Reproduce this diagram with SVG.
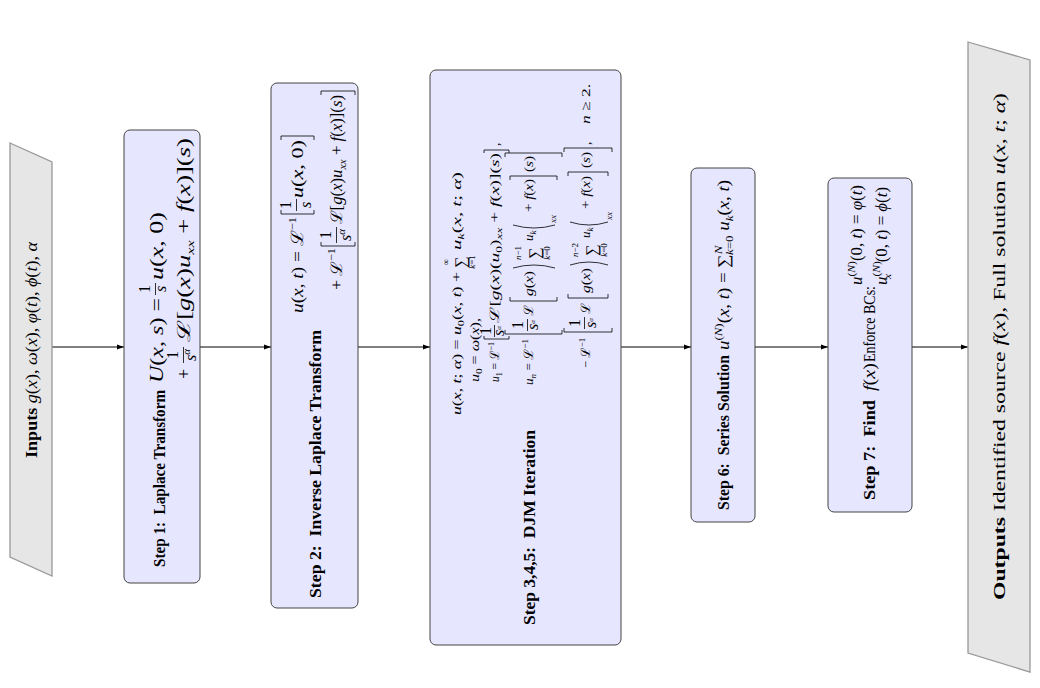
<svg xmlns="http://www.w3.org/2000/svg" width="1040" height="688" viewBox="0 0 1040 688">
<defs>
<style>
.t{font-family:"Liberation Serif","DejaVu Serif",serif;font-size:16px;fill:#000}
.b{font-weight:bold}
.i{font-style:italic}
.s{font-size:11px}
.m1{font-size:18px}
.m2{font-size:17px}
.d{font-size:13px}
.ds{font-size:9px}
.node{fill:#e6e6ff;stroke:#444;stroke-width:1}
.io{fill:#e6e6e6;stroke:#999;stroke-width:1.3}
.edge{stroke:#000;stroke-width:1;fill:none;marker-end:url(#ah)}
.bar{stroke:#000;stroke-width:0.8}
.br{stroke:#000;stroke-width:0.8;fill:none}
</style>
<marker id="ah" viewBox="0 0 10 10" refX="10" refY="5" markerWidth="7" markerHeight="7" orient="auto" markerUnits="userSpaceOnUse">
<path d="M0,1.5 L10,5 L0,8.5 Z" fill="#000"/>
</marker>
</defs>
<rect width="1040" height="688" fill="#fff"/>

<g id="connectors">
<line class="edge" x1="52" y1="347" x2="124" y2="347"/>
<line class="edge" x1="200" y1="347" x2="271" y2="347"/>
<line class="edge" x1="358" y1="347" x2="430" y2="347"/>
<line class="edge" x1="621" y1="347" x2="691" y2="347"/>
<line class="edge" x1="755" y1="347" x2="828" y2="347"/>
<line class="edge" x1="912" y1="347" x2="968" y2="347"/>
</g>

<g id="inputs">
<polygon class="io" points="10,143 52,162 52,576 10,557"/>
<text class="t" font-size="17.5" textLength="216" lengthAdjust="spacingAndGlyphs" transform="translate(37 458) rotate(-90)"><tspan class="b">Inputs</tspan> <tspan class="i">g</tspan>(<tspan class="i">x</tspan>), <tspan class="i">ω</tspan>(<tspan class="i">x</tspan>), <tspan class="i">φ</tspan>(<tspan class="i">t</tspan>), <tspan class="i">ϕ</tspan>(<tspan class="i">t</tspan>), <tspan class="i">α</tspan></text>
</g>

<g id="step1">
<rect class="node" x="124" y="130" width="76" height="453" rx="6"/>
<text class="t b" font-size="15.5" textLength="177" lengthAdjust="spacingAndGlyphs" transform="translate(165 567) rotate(-90)">Step 1:&#160; Laplace Transform</text>
<text class="t m1" textLength="85" lengthAdjust="spacingAndGlyphs" transform="translate(163 383) rotate(-90)"><tspan class="i">U</tspan>(<tspan class="i">x</tspan>, <tspan class="i">s</tspan>) =</text>
<text class="t" font-size="16" text-anchor="middle" transform="translate(150 289) rotate(-90)">1</text>
<line class="bar" x1="155.5" y1="283" x2="155.5" y2="295"/>
<text class="t i" font-size="16" text-anchor="middle" transform="translate(166 289) rotate(-90)">s</text>
<text class="t m1" textLength="68" lengthAdjust="spacingAndGlyphs" transform="translate(163 280) rotate(-90)"><tspan class="i">u</tspan>(<tspan class="i">x</tspan>, 0)</text>
<text class="t m1" transform="translate(190 379) rotate(-90)">+</text>
<text class="t" font-size="16" text-anchor="middle" transform="translate(178 355) rotate(-90)">1</text>
<line class="bar" x1="183.5" y1="347" x2="183.5" y2="363"/>
<text class="t" font-size="16" text-anchor="middle" transform="translate(196 355) rotate(-90)"><tspan class="i">s</tspan><tspan class="s i" dy="-6">α</tspan></text>
<text class="t m1" textLength="204" lengthAdjust="spacingAndGlyphs" transform="translate(190 342) rotate(-90)">ℒ[<tspan class="i">g</tspan>(<tspan class="i">x</tspan>)<tspan class="i">u</tspan><tspan class="s i" dy="4">xx</tspan><tspan dy="-4"> + </tspan><tspan class="i">f</tspan>(<tspan class="i">x</tspan>)](<tspan class="i">s</tspan>)</text>
</g>

<g id="step2">
<rect class="node" x="271" y="83" width="87" height="525" rx="6"/>
<text class="t b" font-size="16.5" textLength="268" lengthAdjust="spacingAndGlyphs" transform="translate(321 598) rotate(-90)">Step 2:&#160; Inverse Laplace Transform</text>
<text class="t m2" textLength="96" lengthAdjust="spacingAndGlyphs" transform="translate(303 313) rotate(-90)"><tspan class="i">u</tspan>(<tspan class="i">x</tspan>, <tspan class="i">t</tspan>) = ℒ<tspan class="s" dy="-7">−1</tspan></text>
<path class="br" d="M281,210 L281,214 L314,214 L314,210"/>
<text class="t" text-anchor="middle" transform="translate(291 205) rotate(-90)">1</text>
<line class="bar" x1="296.5" y1="199" x2="296.5" y2="211"/>
<text class="t i" text-anchor="middle" transform="translate(311 205) rotate(-90)">s</text>
<text class="t m2" textLength="58" lengthAdjust="spacingAndGlyphs" transform="translate(303 198) rotate(-90)"><tspan class="i">u</tspan>(<tspan class="i">x</tspan>, 0)</text>
<path class="br" d="M281,140 L281,136 L314,136 L314,140"/>
<text class="t" font-size="16" textLength="42" lengthAdjust="spacingAndGlyphs" transform="translate(342 290) rotate(-90)">+ ℒ<tspan class="s" dy="-7">−1</tspan></text>
<path class="br" d="M321,242 L321,246 L355,246 L355,242"/>
<text class="t" text-anchor="middle" transform="translate(331 235) rotate(-90)">1</text>
<line class="bar" x1="336.5" y1="227" x2="336.5" y2="243"/>
<text class="t" text-anchor="middle" transform="translate(351 235) rotate(-90)"><tspan class="i">s</tspan><tspan class="s i" dy="-6">α</tspan></text>
<text class="t" font-size="16" textLength="129" lengthAdjust="spacingAndGlyphs" transform="translate(342 224) rotate(-90)">ℒ[<tspan class="i">g</tspan>(<tspan class="i">x</tspan>)<tspan class="i">u</tspan><tspan class="s i" dy="4">xx</tspan><tspan dy="-4"> + </tspan><tspan class="i">f</tspan>(<tspan class="i">x</tspan>)](<tspan class="i">s</tspan>)</text>
<path class="br" d="M321,95 L321,91 L355,91 L355,95"/>
</g>

<g id="step345">
<rect class="node" x="430" y="70" width="191" height="575" rx="6"/>
<text class="t b" font-size="17" textLength="195" lengthAdjust="spacingAndGlyphs" transform="translate(535 625) rotate(-90)">Step 3,4,5:&#160; DJM Iteration</text>
<text class="t d" textLength="143" lengthAdjust="spacingAndGlyphs" transform="translate(461 415) rotate(-90)"><tspan class="i">u</tspan>(<tspan class="i">x</tspan>, <tspan class="i">t</tspan>; <tspan class="i">α</tspan>) = <tspan class="i">u</tspan><tspan class="ds" dy="3">0</tspan><tspan dy="-3">(</tspan><tspan class="i">x</tspan>, <tspan class="i">t</tspan>) +</text>
<text class="t" font-size="21" text-anchor="middle" transform="translate(466 262) rotate(-90)">∑</text>
<text class="t ds" text-anchor="middle" transform="translate(449 262) rotate(-90)">∞</text>
<text class="t ds" text-anchor="middle" transform="translate(475 262) rotate(-90)"><tspan class="i">k</tspan>=1</text>
<text class="t d" textLength="78" lengthAdjust="spacingAndGlyphs" transform="translate(461 250) rotate(-90)"><tspan class="i">u</tspan><tspan class="ds i" dy="3">k</tspan><tspan dy="-3">(</tspan><tspan class="i">x</tspan>, <tspan class="i">t</tspan>; <tspan class="i">α</tspan>)</text>
<text class="t d" textLength="64" lengthAdjust="spacingAndGlyphs" transform="translate(479 382) rotate(-90)"><tspan class="i">u</tspan><tspan class="ds" dy="3">0</tspan><tspan dy="-3"> = </tspan><tspan class="i">ω</tspan>(<tspan class="i">x</tspan>),</text>
<text class="t d" textLength="40" lengthAdjust="spacingAndGlyphs" transform="translate(499 382) rotate(-90)"><tspan class="i">u</tspan><tspan class="ds" dy="3">1</tspan><tspan dy="-3"> = ℒ</tspan><tspan class="ds" dy="-5">−1</tspan></text>
<path class="br" d="M484,336 L484,339 L509,339 L509,336"/>
<text class="t" font-size="10" text-anchor="middle" transform="translate(491 331) rotate(-90)">1</text>
<line class="bar" x1="494.5" y1="325" x2="494.5" y2="337"/>
<text class="t" font-size="10" text-anchor="middle" transform="translate(504 331) rotate(-90)"><tspan class="i">s</tspan><tspan font-size="7" class="i" dy="-3">α</tspan></text>
<text class="t d" textLength="170" lengthAdjust="spacingAndGlyphs" transform="translate(499 323) rotate(-90)">ℒ[<tspan class="i">g</tspan>(<tspan class="i">x</tspan>)(<tspan class="i">u</tspan><tspan class="ds" dy="3">0</tspan><tspan dy="-3">)</tspan><tspan class="ds i" dy="3">xx</tspan><tspan dy="-3"> + </tspan><tspan class="i">f</tspan>(<tspan class="i">x</tspan>)](<tspan class="i">s</tspan>)</text>
<path class="br" d="M484,153 L484,150 L509,150 L509,153"/>
<text class="t d" transform="translate(499 146) rotate(-90)">,</text>

<text class="t d" textLength="46" lengthAdjust="spacingAndGlyphs" transform="translate(533 385) rotate(-90)"><tspan class="i">u</tspan><tspan class="ds i" dy="3">n</tspan><tspan dy="-3"> = ℒ</tspan><tspan class="ds" dy="-5">−1</tspan></text>
<path class="br" d="M505,330 L505,334 L562,334 L562,330"/>
<text class="t" font-size="10" text-anchor="middle" transform="translate(523 325) rotate(-90)">1</text>
<line class="bar" x1="527.5" y1="319" x2="527.5" y2="331"/>
<text class="t" font-size="10" text-anchor="middle" transform="translate(538 325) rotate(-90)"><tspan class="i">s</tspan><tspan font-size="7" class="i" dy="-3">α</tspan></text>
<text class="t d" transform="translate(533 316) rotate(-90)">ℒ</text>
<path class="br" d="M510,297 L510,301 L557,301 L557,297"/>
<text class="t d" textLength="25" lengthAdjust="spacingAndGlyphs" transform="translate(533 296) rotate(-90)"><tspan class="i">g</tspan>(<tspan class="i">x</tspan>)</text>
<path class="br" d="M513,268 Q534,262 555,268"/>
<text class="t" font-size="21" text-anchor="middle" transform="translate(540 253) rotate(-90)">∑</text>
<text class="t ds" text-anchor="middle" transform="translate(521 253) rotate(-90)"><tspan class="i">n</tspan>−1</text>
<text class="t ds" text-anchor="middle" transform="translate(550 253) rotate(-90)"><tspan class="i">k</tspan>=0</text>
<text class="t d" transform="translate(533 241) rotate(-90)"><tspan class="i">u</tspan><tspan class="ds i" dy="3">k</tspan></text>
<path class="br" d="M513,225 Q534,231 555,225"/>
<text class="t ds i" transform="translate(556 223) rotate(-90)">xx</text>
<text class="t d" textLength="33" lengthAdjust="spacingAndGlyphs" transform="translate(533 212) rotate(-90)">+ <tspan class="i">f</tspan>(<tspan class="i">x</tspan>)</text>
<path class="br" d="M510,180 L510,176 L557,176 L557,180"/>
<text class="t d" textLength="16" lengthAdjust="spacingAndGlyphs" transform="translate(533 172) rotate(-90)">(<tspan class="i">s</tspan>)</text>
<path class="br" d="M505,157 L505,153 L562,153 L562,157"/>

<text class="t d" textLength="30" lengthAdjust="spacingAndGlyphs" transform="translate(590 368) rotate(-90)">− ℒ<tspan class="ds" dy="-5">−1</tspan></text>
<path class="br" d="M564,328 L564,332 L612,332 L612,328"/>
<text class="t" font-size="10" text-anchor="middle" transform="translate(580 323) rotate(-90)">1</text>
<line class="bar" x1="584.5" y1="317" x2="584.5" y2="329"/>
<text class="t" font-size="10" text-anchor="middle" transform="translate(596 323) rotate(-90)"><tspan class="i">s</tspan><tspan font-size="7" class="i" dy="-3">α</tspan></text>
<text class="t d" transform="translate(590 314) rotate(-90)">ℒ</text>
<path class="br" d="M568,294 L568,298 L608,298 L608,294"/>
<text class="t d" textLength="25" lengthAdjust="spacingAndGlyphs" transform="translate(590 293) rotate(-90)"><tspan class="i">g</tspan>(<tspan class="i">x</tspan>)</text>
<path class="br" d="M570,265 Q589,259 608,265"/>
<text class="t" font-size="21" text-anchor="middle" transform="translate(597 250) rotate(-90)">∑</text>
<text class="t ds" text-anchor="middle" transform="translate(578 250) rotate(-90)"><tspan class="i">n</tspan>−2</text>
<text class="t ds" text-anchor="middle" transform="translate(607 250) rotate(-90)"><tspan class="i">k</tspan>=0</text>
<text class="t d" transform="translate(590 238) rotate(-90)"><tspan class="i">u</tspan><tspan class="ds i" dy="3">k</tspan></text>
<path class="br" d="M570,222 Q589,228 608,222"/>
<text class="t ds i" transform="translate(612 220) rotate(-90)">xx</text>
<text class="t d" textLength="33" lengthAdjust="spacingAndGlyphs" transform="translate(590 209) rotate(-90)">+ <tspan class="i">f</tspan>(<tspan class="i">x</tspan>)</text>
<path class="br" d="M568,176 L568,172 L608,172 L608,176"/>
<text class="t d" textLength="16" lengthAdjust="spacingAndGlyphs" transform="translate(590 168) rotate(-90)">(<tspan class="i">s</tspan>)</text>
<path class="br" d="M564,152 L564,148 L612,148 L612,152"/>
<text class="t d" transform="translate(590 145) rotate(-90)">,</text>
<text class="t d" textLength="40" lengthAdjust="spacingAndGlyphs" transform="translate(590 124) rotate(-90)"><tspan class="i">n</tspan> ≥ 2.</text>
</g>

<g id="step6">
<rect class="node" x="691" y="168" width="64" height="354" rx="6"/>
<text class="t b" font-size="16.5" textLength="155" lengthAdjust="spacingAndGlyphs" transform="translate(729 510) rotate(-90)">Step 6:&#160; Series Solution</text>
<text class="t" font-size="18" textLength="170" lengthAdjust="spacingAndGlyphs" transform="translate(729 350) rotate(-90)"><tspan class="i">u</tspan><tspan class="s" dy="-7">(</tspan><tspan class="s i">N</tspan><tspan class="s">)</tspan><tspan dy="7">(</tspan><tspan class="i">x</tspan>, <tspan class="i">t</tspan>) = ∑<tspan class="s i" dy="-7">N</tspan><tspan class="s" dx="-8" dy="11"><tspan class="i">k</tspan>=0</tspan><tspan dy="-4"> </tspan><tspan class="i">u</tspan><tspan class="s i" dy="4">k</tspan><tspan dy="-4">(</tspan><tspan class="i">x</tspan>, <tspan class="i">t</tspan>)</text>
</g>

<g id="step7">
<rect class="node" x="828" y="178" width="84" height="334" rx="6"/>
<text class="t b" font-size="16.5" textLength="100" lengthAdjust="spacingAndGlyphs" transform="translate(875 500) rotate(-90)">Step 7:&#160; Find</text>
<text class="t i" font-size="17" textLength="28" lengthAdjust="spacingAndGlyphs" transform="translate(875 391) rotate(-90)">f<tspan font-style="normal">(</tspan>x<tspan font-style="normal">)</tspan></text>
<text class="t" font-size="16" textLength="76" lengthAdjust="spacingAndGlyphs" transform="translate(875 362) rotate(-90)">Enforce BCs:</text>
<text class="t" font-size="17" textLength="100" lengthAdjust="spacingAndGlyphs" transform="translate(862 285) rotate(-90)"><tspan class="i">u</tspan><tspan class="s" dy="-7">(</tspan><tspan class="s i">N</tspan><tspan class="s">)</tspan><tspan dy="7">(0, </tspan><tspan class="i">t</tspan>) = <tspan class="i">φ</tspan>(<tspan class="i">t</tspan>)</text>
<text class="t" font-size="17" textLength="98" lengthAdjust="spacingAndGlyphs" transform="translate(887 285) rotate(-90)"><tspan class="i">u</tspan><tspan class="s" dy="-7">(</tspan><tspan class="s i">N</tspan><tspan class="s">)</tspan><tspan class="s i" dx="-17" dy="11">x</tspan><tspan dx="11" dy="-4">(0, </tspan><tspan class="i">t</tspan>) = <tspan class="i">ϕ</tspan>(<tspan class="i">t</tspan>)</text>
</g>

<g id="outputs">
<polygon class="io" points="968,42 1030,60 1030,672 968,653"/>
<text class="t" font-size="18" textLength="507" lengthAdjust="spacingAndGlyphs" transform="translate(1005 600) rotate(-90)"><tspan class="b">Outputs</tspan> Identified source <tspan class="i">f</tspan>(<tspan class="i">x</tspan>), Full solution <tspan class="i">u</tspan>(<tspan class="i">x</tspan>, <tspan class="i">t</tspan>; <tspan class="i">α</tspan>)</text>
</g>
</svg>
